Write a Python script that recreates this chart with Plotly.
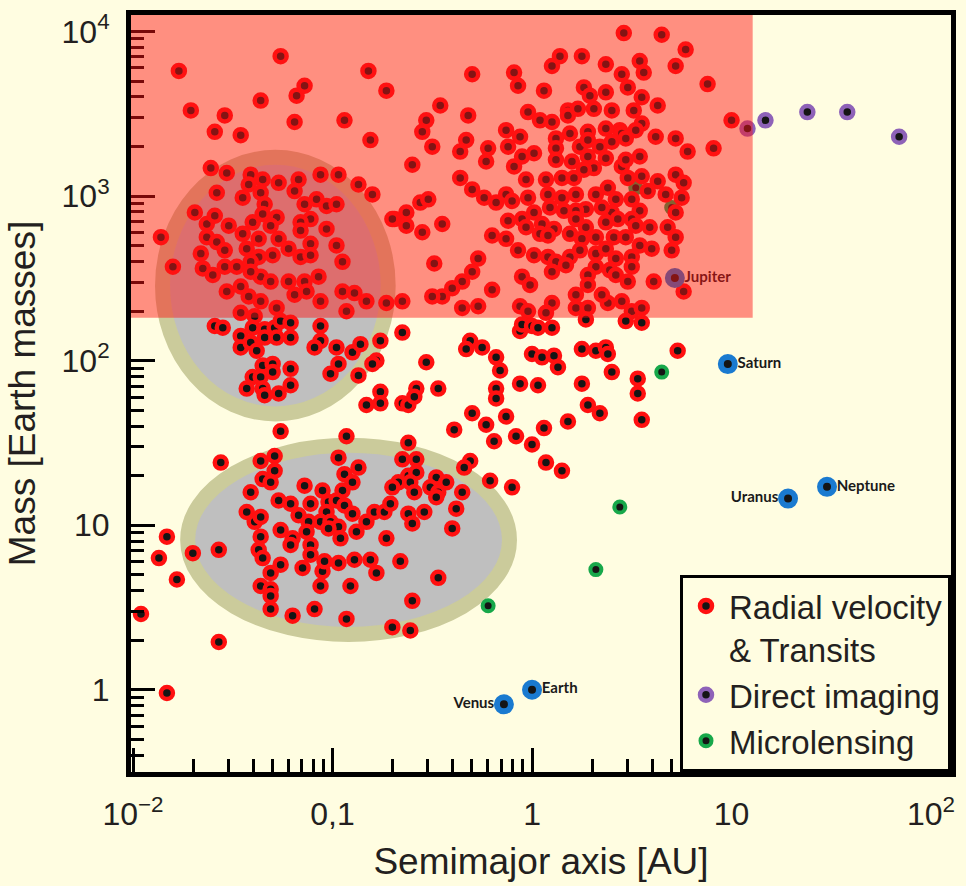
import plotly.graph_objects as go

# ---------------- data (log10 of semimajor axis [AU] and mass [Earth masses]) ----------------
# Radial velocity & transits — giants at short periods (upper-left, outside the ellipse)
rv_log_a_A = [-1.77,-1.26,-1.71,-1.54,-1.59,-1.46,-1.36,-1.18,-1.14,-1.19,
              -0.82,-0.73,-0.94,-0.81,-0.60,-0.46,-0.53,-0.55,-0.50,-0.32,
              -0.33,-0.36,-0.36,-0.56,-0.52,-0.69,-0.63,-0.63,-0.55,-0.45,
              -0.49,-0.35,-0.40,-0.45,-0.50,-0.35,-0.65]
rv_log_m_A = [3.76,3.85,3.52,3.49,3.39,3.37,3.58,3.61,3.67,3.45,
              3.76,3.64,3.46,3.34,3.19,3.55,3.46,3.39,3.30,3.49,
              3.34,3.27,3.11,2.96,2.98,2.86,2.90,2.82,2.78,2.83,
              2.59,2.48,2.44,2.39,2.39,2.32,2.36]

# hot Jupiters (upper ellipse, inside the shaded giant region)
rv_log_a_B = [-1.61,-1.53,-1.58,-1.69,-1.86,-1.80,
              -1.41,-1.35,-1.27,-1.42,-1.36,-1.45,-1.34,-1.35,-1.28,-1.40,-1.31,
              -1.17,-1.19,-1.06,-0.97,-0.87,-0.80,
              -1.14,-1.08,-1.03,-0.98,-1.11,-1.16,-1.16,-1.03,-0.98,-1.11,
              -1.22,-1.27,-1.37,-1.45,-1.52,-1.63,-1.59,-1.63,-1.58,-1.54,
              -1.66,-1.65,-1.60,-1.54,-1.48,-1.43,-1.37,-1.30,-1.41,-1.36,
              -1.31,-1.41,-1.22,-1.14,-1.07,-1.16,-1.11,-0.95,
              -1.53,-1.46,-1.42,-1.36,-1.28,-1.19,-1.13,-1.06,-0.95,-0.89,
              -0.83,-0.93,-0.73,-0.70,-1.46,-1.39]
rv_log_m_B = [3.17,3.14,3.02,2.90,2.75,2.57,
              3.13,3.10,3.08,3.07,3.02,2.99,2.95,2.89,2.87,2.84,2.82,
              3.10,3.03,3.13,3.13,3.07,3.01,
              2.95,2.98,2.94,2.95,2.86,2.84,2.79,2.80,2.70,2.71,
              2.68,2.74,2.74,2.77,2.82,2.83,2.88,2.75,2.72,2.67,
              2.65,2.56,2.52,2.57,2.57,2.68,2.63,2.64,2.60,2.51,
              2.48,2.54,2.48,2.48,2.51,2.63,2.64,2.60,
              2.42,2.45,2.39,2.36,2.32,2.40,2.42,2.36,2.42,2.41,
              2.36,2.30,2.35,2.86,2.29,2.27]

# upper ellipse, below the shaded region
rv_log_a_C = [-1.59,-1.55,-1.46,-1.46,-1.40,-1.41,-1.38,-1.34,-1.34,-1.29,
              -1.26,-1.21,-1.28,-1.21,-1.06,-1.06,-1.09,-0.98,-0.97,-1.01,
              -0.90,-0.86,-0.87,-0.78,-0.80,-0.76,-0.76,-0.83,-0.76,-1.35,
              -1.30,-1.21,-1.40,-1.36,-1.30,-1.43,-1.35,-1.34,-1.27,-1.21]
rv_log_m_C = [2.21,2.20,2.15,2.08,2.20,2.11,2.06,2.19,2.14,2.20,
              2.24,2.23,2.14,2.14,2.21,2.12,2.08,2.08,1.98,1.92,
              2.05,2.10,1.91,2.00,1.98,2.12,1.81,1.73,1.74,1.97,
              1.98,1.95,1.90,1.90,1.93,1.83,1.83,1.79,1.80,1.85]

# long-period giants (dense cluster around 1 AU)
rv_log_a_D1 = [0.46,0.65,0.77,0.72,0.88,0.14,0.10,0.25,0.37,0.45,
               0.54,0.56,-0.09,-0.07,-0.30,0.06,0.26,0.37,0.48,0.55,
               0.63,-0.02,0.04,0.10,0.18,0.18,0.23,0.31,0.40,0.51,
               0.29,0.55,0.52,0.44,0.45,0.37,0.28,0.19,0.12,0.12,
               0.24,0.28,0.34,0.40,0.47,-0.13,-0.06,-0.12,-0.22,-0.23,
               -0.05,0.01,-0.09,0.62,0.72,0.78,0.91,1.00]
rv_log_m_D1 = [3.99,3.98,3.89,3.79,3.68,3.85,3.79,3.85,3.80,3.74,
               3.82,3.75,3.75,3.67,3.74,3.64,3.66,3.63,3.66,3.60,
               3.55,3.51,3.46,3.45,3.52,3.49,3.53,3.53,3.52,3.52,
               3.61,3.44,3.40,3.40,3.38,3.41,3.39,3.38,3.35,3.29,
               3.30,3.34,3.30,3.33,3.35,3.40,3.36,3.30,3.29,3.21,
               3.24,3.26,3.18,3.36,3.35,3.27,3.29,3.46]
rv_log_a_D2 = [0.12,0.20,0.28,0.31,0.37,0.45,0.47,0.54,-0.03,0.07,
               0.15,0.21,0.26,0.48,0.55,0.63,0.72,0.76,-0.24,-0.18,
               -0.30,-0.13,-0.10,-0.02,0.08,0.15,0.22,0.32,0.38,0.42,
               0.50,0.58,0.67,0.75,0.72,0.54,0.50,0.40,0.35,0.27,
               0.22,0.16,0.09,0.01,-0.05,-0.12,-0.20,-0.13,-0.07,-0.03,
               0.05,0.11,0.22,0.27,0.37,0.43,0.52,0.59,0.68,0.72]
rv_log_m_D2 = [3.22,3.21,3.24,3.17,3.23,3.18,3.22,3.24,3.10,3.10,
               3.11,3.11,3.16,3.11,3.12,3.09,3.13,3.08,2.99,2.96,
               3.04,3.01,2.97,2.99,3.01,2.99,3.01,3.01,3.05,2.98,
               2.98,3.03,3.01,2.99,2.90,2.91,2.86,2.90,2.93,2.92,
               2.91,2.91,2.93,2.90,2.86,2.85,2.76,2.74,2.67,2.81,
               2.83,2.80,2.86,2.81,2.84,2.86,2.82,2.81,2.81,2.75]
rv_log_a_D3 = [0.04,0.08,0.19,0.25,0.32,0.41,0.47,0.54,0.60,0.70,
               0.01,0.08,0.12,0.19,0.24,0.32,0.37,0.42,0.50,0.32,
               0.39,0.50,-0.05,-0.01,0.10,0.17,0.28,0.28,0.42,0.48,
               0.61,0.76,-0.27,-0.30,-0.20,-0.27,-0.06,-0.02,0.10,0.07,
               0.22,0.22,0.28,0.38,0.45,0.50,0.55,0.35]
rv_log_m_D3 = [2.77,2.76,2.77,2.74,2.75,2.75,2.75,2.70,2.68,2.67,
               2.64,2.63,2.60,2.63,2.67,2.65,2.68,2.62,2.63,2.57,
               2.55,2.57,2.51,2.46,2.54,2.58,2.52,2.46,2.52,2.48,
               2.48,2.42,2.62,2.54,2.43,2.33,2.33,2.30,2.35,2.29,
               2.40,2.32,2.32,2.35,2.36,2.30,2.32,2.40]

# intermediate-mass planets (middle of the diagram)
rv_log_a_E = [-0.06,-0.05,0.00,0.03,0.10,0.27,0.47,0.55,-0.65,-0.53,
              -0.65,-0.62,-0.58,-0.59,-0.47,-0.31,-0.25,-0.33,-0.18,-0.16,
              -0.18,-0.18,-0.06,0.03,-0.30,-0.23,-0.13,-0.39,-0.19,-0.08,
              0.00,-1.26,-0.93,-1.56,-0.62,0.00,0.05,0.11,0.13,0.25,
              0.32,0.37,0.38,0.73,0.40,0.53,0.53,0.25,0.28,0.34,
              0.55,0.18,0.06,0.07,0.15,-0.21,-0.10,-0.31,-0.34]
rv_log_m_E = [2.18,2.22,2.21,2.20,2.20,2.25,2.24,2.23,2.17,1.99,
              1.74,1.73,1.83,1.78,1.83,2.12,2.08,2.07,2.02,1.94,
              1.83,1.77,1.86,1.85,1.68,1.61,1.66,1.58,1.51,1.54,
              1.49,1.57,1.54,1.38,1.50,2.04,2.02,2.03,1.96,2.07,
              2.06,2.08,2.04,2.06,1.93,1.89,1.80,1.86,1.73,1.68,
              1.64,1.63,1.59,1.38,1.33,1.27,1.23,1.39,1.35]

# super-Earths / Neptunes (lower ellipse and left edge)
rv_log_a_F = [-0.65,-0.58,-1.36,-1.29,-1.29,-1.35,-1.31,-1.41,-0.97,-0.87,
              -0.94,-0.90,-0.95,-1.14,-1.05,-0.62,-0.58,-0.67,-0.70,-0.61,
              -0.59,-0.48,-0.43,-0.51,-0.47,-0.48,-0.35,-0.38,-0.40,-0.54,
              -0.62,-0.60,-1.27,-1.21,-1.17,-1.11,-1.02,-0.98,-0.94,-0.90,
              -1.03,-1.06,-1.01,-0.97,-1.12,-1.13,-0.83,-0.79,-0.74,-0.71,
              -0.88,-0.96,-1.02,-0.73,-1.43,-1.39,-1.36,-1.26,-1.36,-1.20,
              -1.21,-1.11,-1.11,-1.37,-1.35,-1.26,-1.31,-1.15,-1.05,-1.04,
              -0.97,-0.89,-0.81,-0.78,-0.66,-1.36,-1.31,-1.31,-1.06,-0.91,
              -0.47,-0.60,-1.31,-1.20,-1.09,-0.93,-0.70,-0.61,-1.70,-1.57,
              -1.83,-1.87,-1.78,-1.96,-1.57,-1.83]
rv_log_m_F = [1.40,1.40,1.39,1.42,1.33,1.28,1.26,1.20,1.41,1.35,
              1.31,1.26,1.21,1.24,1.21,1.30,1.32,1.26,1.23,1.26,
              1.20,1.29,1.26,1.23,1.20,1.17,1.20,1.10,0.98,1.08,
              1.07,1.01,1.15,1.13,1.06,1.13,1.14,1.15,1.12,1.07,
              1.08,1.02,1.02,0.99,1.02,0.96,1.02,1.08,1.08,1.13,
              0.96,0.92,0.98,0.92,1.08,1.02,1.05,0.97,0.93,0.92,
              0.88,0.88,0.82,0.85,0.80,0.76,0.71,0.74,0.72,0.78,
              0.77,0.79,0.79,0.71,0.78,0.63,0.61,0.57,0.63,0.63,
              0.68,0.54,0.49,0.45,0.49,0.43,0.38,0.36,0.83,0.85,
              0.93,0.80,0.67,0.46,0.29,-0.02]

# Direct imaging
di_log_a = [1.08, 1.17, 1.38, 1.58, 1.84]
di_log_m = [3.41, 3.46, 3.51, 3.51, 3.36]

# Microlensing
ml_log_a = [0.65, 0.44, 0.32, -0.22, 0.52, 0.70]
ml_log_m = [1.93, 1.11, 0.73, 0.51, 3.05, 2.93]

# Solar-system planets (AU, Earth masses)
ss_names = ["Venus", "Earth", "Jupiter", "Saturn", "Uranus", "Neptune"]
ss_a = [0.723, 1.0, 5.20, 9.58, 19.2, 30.1]
ss_m = [0.815, 1.0, 317.8, 95.2, 14.5, 17.1]
ss_label_side = ["middle left", "middle right", "middle right", "middle right", "middle left", "middle right"]

# axis ticks
x_tickvals = [0.01, 0.1, 1, 10, 100]
x_ticktext = ["10<sup>−2</sup>", "0,1", "1", "10", "10<sup>2</sup>"]
y_tickvals = [1, 10, 100, 1000, 10000]
y_ticktext = ["1", "10", "10<sup>2</sup>", "10<sup>3</sup>", "10<sup>4</sup>"]

# ---------------- build ----------------
rv_log_a = rv_log_a_A + rv_log_a_B + rv_log_a_C + rv_log_a_D1 + rv_log_a_D2 + rv_log_a_D3 + rv_log_a_E + rv_log_a_F
rv_log_m = rv_log_m_A + rv_log_m_B + rv_log_m_C + rv_log_m_D1 + rv_log_m_D2 + rv_log_m_D3 + rv_log_m_E + rv_log_m_F

def pw(v):
    return [10 ** x for x in v]

BG = "#FFFDE1"
FONT = "Liberation Sans, Arial, sans-serif"

fig = go.Figure()

fig.add_trace(go.Scatter(
    x=pw(ml_log_a), y=pw(ml_log_m), mode="markers", name="Microlensing", legendrank=3,
    marker=dict(size=11, color="#151515", line=dict(color="#17A84A", width=4))))
fig.add_trace(go.Scatter(
    x=pw(rv_log_a), y=pw(rv_log_m), mode="markers", name="Radial velocity<br>& Transits", legendrank=1,
    marker=dict(size=12, color="#151515", line=dict(color="#FF1010", width=4.5))))
fig.add_trace(go.Scatter(
    x=pw(di_log_a), y=pw(di_log_m), mode="markers", name="Direct imaging", legendrank=2,
    marker=dict(size=12, color="#151515", line=dict(color="#8E62B8", width=4.5))))
fig.add_trace(go.Scatter(
    x=ss_a, y=ss_m, mode="markers+text", showlegend=False,
    text=ss_names, textposition=ss_label_side,
    textfont=dict(family="Lato, sans-serif", size=15, color="#1a1a1a", weight="bold"),
    marker=dict(size=14, color="#151515", line=dict(color="#1A7AD0", width=6))))

# ellipses (below traces)
for (lx0, lx1, ly0, ly1) in [(-1.852, -0.721, 1.676, 3.235), (-1.726, -0.113, 0.336, 1.485)]:
    fig.add_shape(type="circle", xref="x", yref="y", layer="below",
                  x0=10 ** lx0, x1=10 ** lx1, y0=10 ** ly0, y1=10 ** ly1,
                  fillcolor="#BFBFBF", line=dict(color="#CBCB9B", width=15))

# translucent red region of giant planets (above everything)
fig.add_shape(type="rect", xref="x", yref="y", layer="above",
              x0=10 ** -2.02, x1=10 ** 1.106, y0=10 ** 2.26, y1=10 ** 4.12,
              fillcolor="rgba(255,20,20,0.47)", line=dict(width=0))

minor_x = [k * 10 ** e for e in range(-2, 2) for k in range(2, 10)]
minor_y = [k * 10 ** e for e in range(-1, 4) for k in range(2, 10) if k * 10 ** e > 0.33]

axis_common = dict(
    type="log", showgrid=False, zeroline=False,
    showline=True, linewidth=5, linecolor="black", mirror=True,
    ticks="inside", ticklen=24, tickwidth=3, tickcolor="black",
    tickfont=dict(family=FONT, size=32, color="#231F20"),
)

fig.update_xaxes(**axis_common, range=[-2.01, 2.10],
                 tickvals=x_tickvals, ticktext=x_ticktext, ticklabelstandoff=10,
                 minor=dict(tickvals=minor_x, ticks="inside", ticklen=13, tickwidth=3, tickcolor="black", showgrid=False),
                 title=dict(text="Semimajor axis [AU]", font=dict(family=FONT, size=37, color="#231F20"), standoff=18))
fig.update_yaxes(**axis_common, range=[-0.5, 4.10],
                 tickvals=y_tickvals, ticktext=y_ticktext, ticklabelstandoff=10,
                 minor=dict(tickvals=minor_y, ticks="inside", ticklen=13, tickwidth=3, tickcolor="black", showgrid=False),
                 title=dict(text="Mass [Earth masses]", font=dict(family=FONT, size=37, color="#231F20"), standoff=16))

fig.update_layout(
    width=966, height=886,
    margin=dict(l=131, r=15, t=10, b=103),
    paper_bgcolor=BG, plot_bgcolor=BG,
    showlegend=True,
    legend=dict(x=1, xanchor="right", y=0, yanchor="bottom",
                bgcolor=BG, bordercolor="black", borderwidth=3,
                font=dict(family=FONT, size=33, color="#231F20"),
                valign="top", itemsizing="trace", itemwidth=36, tracegroupgap=0),
)

fig.write_html("out.html")
